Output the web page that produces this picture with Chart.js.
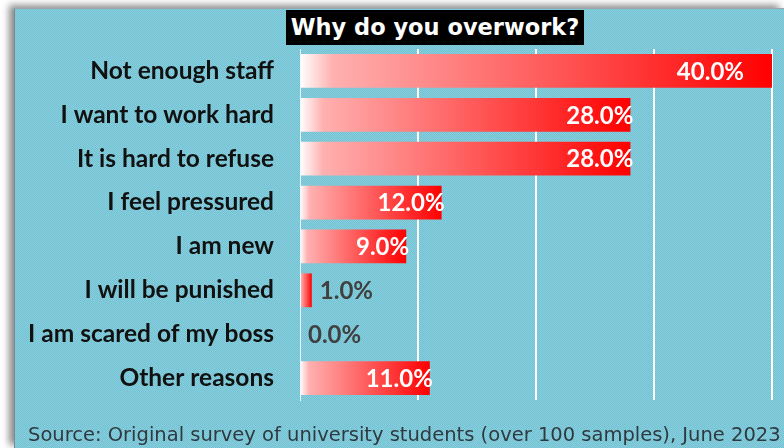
<!DOCTYPE html>
<html>
<head>
<meta charset="utf-8">
<script src="https://cdn.jsdelivr.net/npm/chart.js@4/dist/chart.umd.min.js"></script>
<style>
  html, body { margin: 0; padding: 0; background: #ffffff; overflow: hidden; }
  #frame {
    position: absolute; left: 14px; top: 8px; width: 770px; height: 440px;
    background: repeating-conic-gradient(#88d0dd 0 25%, #72c0d2 0 50%) 0 0 / 2px 2px;
    box-shadow: -5px -3px 7px rgba(0, 0, 0, 0.45);
    border-left: 1px solid #7a8a90; border-top: 1px solid #9aa6aa;
    box-sizing: border-box;
  }
  #chart { position: absolute; left: -1px; top: -1px; }
  #title {
    position: absolute; left: 271px; top: 1px; width: 298px; height: 35px;
    background: #000; color: #fff; text-align: center;
    font: bold 22.5px "DejaVu Sans", sans-serif; line-height: 35px;
  }
  #source {
    position: absolute; left: 13px; top: 414px; white-space: nowrap;
    font: 19.5px "DejaVu Sans", sans-serif; color: #2f3a40;
  }
</style>
</head>
<body>
<div id="frame">
  <canvas id="chart" width="770" height="440"></canvas>
  <div id="title">Why do you overwork?</div>
  <div id="source">Source: Original survey of university students (over 100 samples), June 2023</div>
</div>
<script>
var reasons = ["Not enough staff", "I want to work hard", "It is hard to refuse", "I feel pressured",
               "I am new", "I will be punished", "I am scared of my boss", "Other reasons"];
var shares = [40.0, 28.0, 28.0, 12.0, 9.0, 1.0, 0.0, 11.0];
var axisTicks = [0, 10, 20, 30, 40];

// white -> pink -> red fill along each bar
function barFill(ctx) {
    var chart = ctx.chart;
    if (!chart.chartArea || !chart.scales.x) return '#ff0000';
    var x = chart.scales.x;
    var x0 = x.getPixelForValue(0);
    var x1 = x.getPixelForValue(ctx.raw);
    if (x1 - x0 < 1) return '#ff0000';
    var g = chart.ctx.createLinearGradient(x0, 0, x1, 0);
    g.addColorStop(0, '#ffffff');
    g.addColorStop(0.07, '#ffb0b0');
    g.addColorStop(1, '#ff0000');
    return g;
}

// percent labels at the end of each bar
var valueLabels = {
    id: 'valueLabels',
    afterDatasetsDraw: function (chart) {
        var ctx = chart.ctx;
        var meta = chart.getDatasetMeta(0);
        var area = chart.chartArea;
        ctx.save();
        ctx.font = 'bold 24px Lato, sans-serif';
        ctx.textBaseline = 'middle';
        meta.data.forEach(function (bar, i) {
            var v = shares[i];
            var txt = v.toFixed(1) + '%';
            if (v >= 5) {
                ctx.fillStyle = '#ffffff';
                ctx.textAlign = 'right';
                ctx.fillText(txt, Math.min(bar.x + 3, area.right - 28), bar.y + 1);
            } else {
                ctx.fillStyle = '#404040';
                ctx.textAlign = 'left';
                ctx.fillText(txt, bar.x + 8, bar.y + 1);
            }
        });
        ctx.restore();
    }
};

new Chart(document.getElementById('chart').getContext('2d'), {
    type: 'bar',
    data: {
        labels: reasons,
        datasets: [{
            data: shares,
            backgroundColor: barFill,
            borderWidth: 0,
            barPercentage: 0.77,
            categoryPercentage: 1.0
        }]
    },
    options: {
        indexAxis: 'y',
        responsive: false,
        animation: false,
        devicePixelRatio: 1,
        layout: { padding: { left: 0, top: 41, right: 12, bottom: 48 } },
        plugins: { legend: { display: false }, tooltip: { enabled: false }, title: { display: false } },
        scales: {
            x: {
                min: axisTicks[0],
                max: axisTicks[axisTicks.length - 1],
                afterBuildTicks: function (s) { s.ticks = axisTicks.map(function (v) { return { value: v }; }); },
                afterFit: function (s) { s.height = 0; },
                ticks: { display: false },
                border: { display: false },
                grid: {
                    drawTicks: false,
                    lineWidth: 2,
                    color: function (c) { return c.tick && c.tick.value === 0 ? 'rgba(0,0,0,0)' : '#ffffff'; }
                }
            },
            y: {
                afterFit: function (s) { s.width = 286; },
                grid: { display: false, drawTicks: false },
                border: { display: true, color: 'rgba(255,255,255,0.85)', width: 1, dash: [1, 2] },
                ticks: {
                    padding: 26,
                    color: '#111111',
                    font: { family: 'Lato, sans-serif', weight: 'bold', size: 24.5 }
                }
            }
        }
    },
    plugins: [valueLabels]
});
</script>
</body>
</html>
